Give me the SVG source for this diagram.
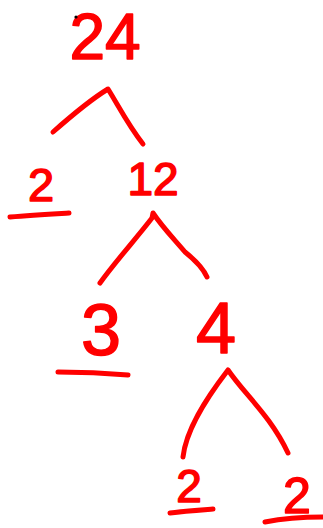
<svg xmlns="http://www.w3.org/2000/svg" width="323" height="528" viewBox="0 0 323 528">
<style>
.num{font-family:"Liberation Sans",Arial,sans-serif;fill:#f00;stroke:#f00;stroke-width:1.5;stroke-linejoin:round;text-anchor:middle}
.ink{fill:none;stroke:#f00;stroke-width:5;stroke-linecap:round;stroke-linejoin:round}
</style>
<rect width="323" height="528" fill="#fff"/>
<g id="connectors">
<path class="ink" d="M53,132 C70,117 90,100 108,89 C118,105 128,125 143,144"/>
<path class="ink" d="M100,283 C115,262 135,240 152,218 L153,213 C163,228 175,240 185,252 C195,260 203,268 207,277"/>
<path class="ink" d="M183,457 C186,430 205,400 228,370 C245,395 270,415 288,453"/>
</g>
<g id="n24">
<text class="num" x="105" y="59" font-size="64">24</text>
<circle cx="76" cy="17" r="1.6" fill="#000"/>
</g>
<g id="n2a">
<text class="num" x="41" y="201" font-size="47">2</text>
<path class="ink" d="M10,217 C30,215 50,214 69,213"/>
</g>
<g id="n12">
<text class="num" x="153" y="195" font-size="46">12</text>
</g>
<g id="n3">
<text class="num" x="101" y="355" font-size="72">3</text>
<path class="ink" d="M58,372 C80,372 105,373 128,375"/>
</g>
<g id="n4">
<text class="num" x="216" y="353" font-size="72">4</text>
</g>
<g id="n2b">
<text class="num" x="189" y="502" font-size="46">2</text>
<path class="ink" d="M170,513 C185,511 200,510 213,509"/>
</g>
<g id="n2c">
<text class="num" x="297" y="513" font-size="50">2</text>
<path class="ink" d="M265,522 C285,518 305,517 323,517"/>
</g>
</svg>
